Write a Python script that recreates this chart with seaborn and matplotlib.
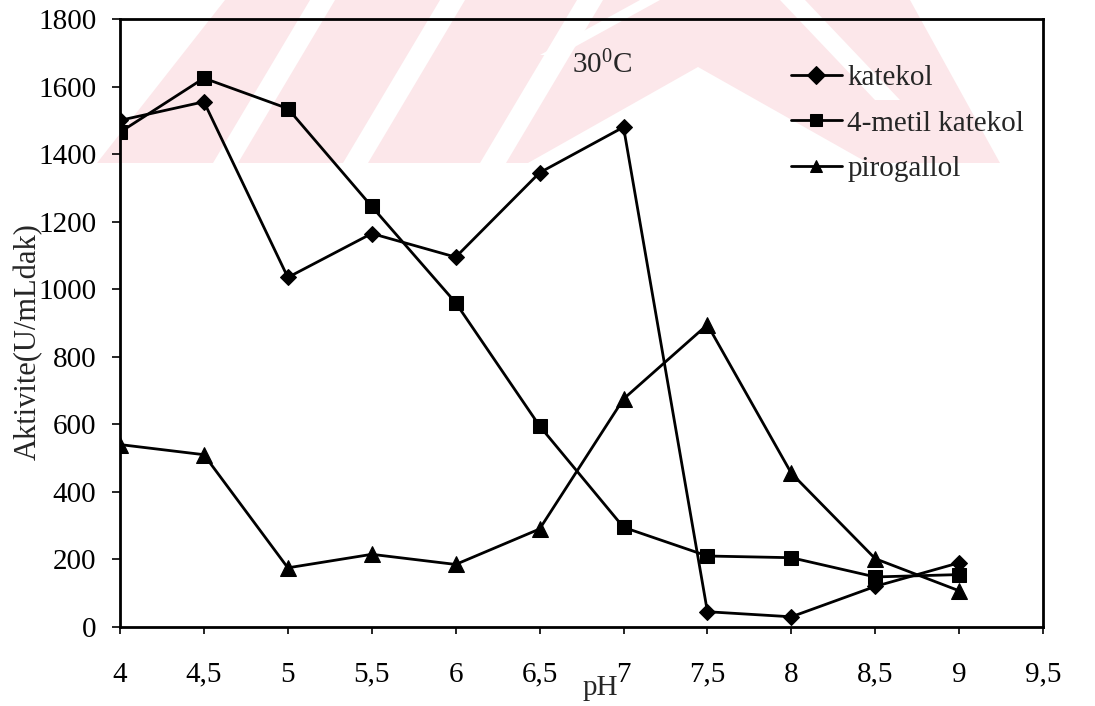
import numpy as np
import pandas as pd
import matplotlib
matplotlib.use("Agg")
import matplotlib.pyplot as plt
from matplotlib.patches import Polygon
import seaborn as sns

ph = [4, 4.5, 5, 5.5, 6, 6.5, 7, 7.5, 8, 8.5, 9]
katekol = [1500, 1555, 1035, 1165, 1095, 1345, 1480, 45, 30, 120, 190]
metil_katekol = [1465, 1625, 1535, 1245, 960, 595, 295, 210, 205, 148, 155]
pirogallol = [540, 510, 175, 215, 185, 290, 675, 895, 455, 202, 107]
series_names = ["katekol", "4-metil katekol", "pirogallol"]
x_ticks = [4, 4.5, 5, 5.5, 6, 6.5, 7, 7.5, 8, 8.5, 9, 9.5]
x_tick_labels = ["4", "4,5", "5", "5,5", "6", "6,5", "7", "7,5", "8", "8,5", "9", "9,5"]
y_ticks = [0, 200, 400, 600, 800, 1000, 1200, 1400, 1600, 1800]

sns.set_theme(style="ticks")
plt.rcParams["font.family"] = ["Liberation Serif", "DejaVu Serif"]
plt.rcParams["mathtext.fontset"] = "custom"
plt.rcParams["mathtext.rm"] = "Liberation Serif"
plt.rcParams["mathtext.it"] = "Liberation Serif:italic"

df = pd.DataFrame({
    "pH": ph * 3,
    "val": katekol + metil_katekol + pirogallol,
    "seri": [series_names[0]] * len(ph) + [series_names[1]] * len(ph) + [series_names[2]] * len(ph),
})

W, H = 1095, 706
fig = plt.figure(figsize=(W / 100, H / 100), dpi=100)


def px(pts):
    return [(x / W, 1 - y / H) for x, y in pts]


# faint background watermark (decorative)
pink = "#fce7ea"
fig.patches.append(Polygon(px([(97, 163), (225, 0), (910, 0), (1000, 163)]),
                           closed=True, transform=fig.transFigure, facecolor=pink,
                           edgecolor="none", zorder=-2))
white_shapes = [
    [(213, 163), (238, 163), (335, 0), (310, 0)],
    [(343, 163), (368, 163), (465, 0), (440, 0)],
    [(480, 163), (506, 163), (603, 0), (577, 0)],
    [(528, 163), (698, 67), (868, 163)],
    [(640, 0), (660, 0), (560, 55), (540, 55)],
    [(780, 0), (805, 0), (900, 100), (875, 100)],
]
for shp in white_shapes:
    fig.patches.append(Polygon(px(shp), closed=True, transform=fig.transFigure,
                               facecolor="white", edgecolor="none", zorder=-1))

ax = fig.add_axes([0.1096, 0.112, 0.843, 0.861])
ax.set_facecolor("none")
ax.set_zorder(2)

sns.lineplot(data=df, x="pH", y="val", hue="seri", style="seri",
             palette=["black"] * 3, markers={"katekol": "D", "4-metil katekol": "s", "pirogallol": "^"},
             dashes=False, linewidth=2.0, markersize=9, markeredgecolor="black",
             ax=ax, legend=True)

for line in ax.get_lines():
    if line.get_marker() == "D":
        line.set_markersize(8)
    elif line.get_marker() == "s":
        line.set_markersize(10.5)
    elif line.get_marker() == "^":
        line.set_markersize(11)

ax.set_xlim(4, 9.5)
ax.set_ylim(0, 1800)
ax.set_xticks(x_ticks)
ax.set_xticklabels(x_tick_labels)
ax.set_yticks(y_ticks)
ax.tick_params(axis="x", length=5, width=1.2, pad=20, labelsize=21, colors="black", direction="out")
ax.tick_params(axis="y", length=6, width=1.2, pad=11, labelsize=21, colors="black", direction="out")
for s in ax.spines.values():
    s.set_visible(True)
    s.set_linewidth(2.0)
    s.set_color("black")

ax.set_xlabel("")
ax.set_ylabel("Aktivite(U/mLdak)", fontsize=22)
ax.yaxis.set_label_coords(-0.084, 0.47)
fig.text(600 / W, 1 - 688 / H, "pH", fontsize=21, ha="center", va="center")
ax.text(6.87, 1665, r"30$^0$C", fontsize=21, ha="center", va="center")

handles, labels = ax.get_legend_handles_labels()
leg = ax.legend(handles, labels, loc="upper left", bbox_to_anchor=(776 / W, 1 - 50 / H),
                bbox_transform=fig.transFigure, frameon=False, fontsize=21,
                handlelength=1.75, handletextpad=0.2, labelspacing=0.66, borderpad=0)
for lh in leg.legend_handles:
    lh.set_markersize(9)

fig.savefig("out.png", dpi=100, facecolor="white")
